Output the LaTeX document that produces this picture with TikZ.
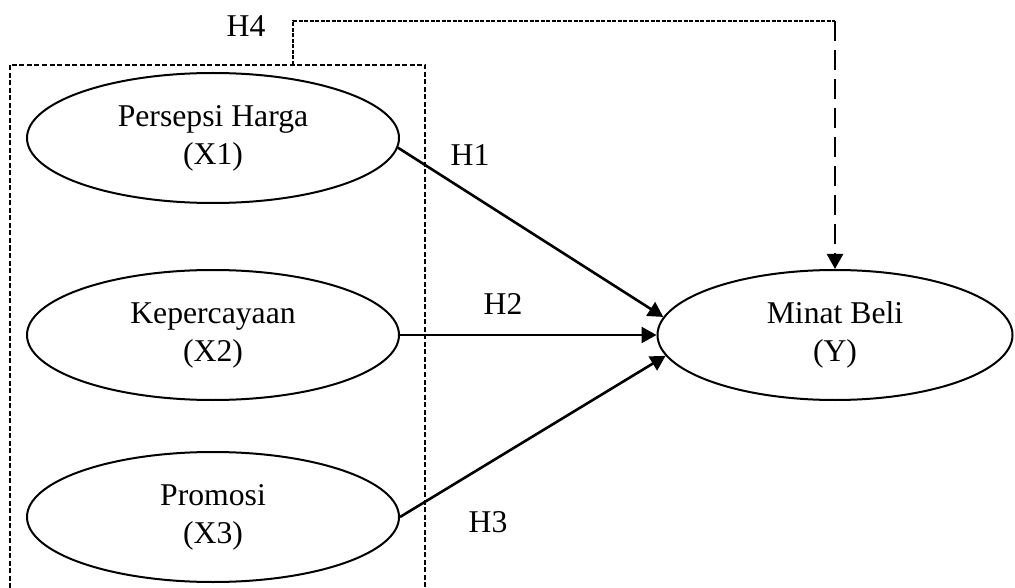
\documentclass[tikz,border=0pt]{standalone}
\usepackage{fontspec}
\setmainfont{Liberation Serif}
\usetikzlibrary{shapes.geometric,arrows.meta}

\begin{document}
\begin{tikzpicture}[x=1pt, y=-1pt,
        font=\fontsize{31.7pt}{38pt}\selectfont,
        var/.style={ellipse, draw, line width=2pt, align=center, inner sep=0pt,
            minimum width=372pt, minimum height=130pt},
        effect/.style={-{Triangle[length=15pt,width=16pt]}, line width=2.6pt},
        hyp/.style={inner sep=0pt}]
    \useasboundingbox (0,0) rectangle (1015,588);

    \node[var] (X1) at (213,138) {Persepsi Harga\\(X1)};
    \node[var] (X2) at (213,335) {Kepercayaan\\(X2)};
    \node[var] (X3) at (213,517) {Promosi\\(X3)};
    \node[var, minimum width=355pt] (Y) at (835,335) {Minat Beli\\(Y)};

    % group box, open at the bottom
    \draw[line width=1.4pt, dash pattern=on 5pt off 2.5pt] (10,588) |- (425,65) -- (425,588);

    \draw[effect] (X1.-3) -- (Y.174);
    \draw[effect] (X2.east) -- (Y.west);
    \draw[effect] (X3.east) -- (Y.187);

    % simultaneous effect
    \coordinate (g) at (293,65);
    \coordinate (c) at (Y.north |- 0,21);
    \draw[line width=1.2pt, dash pattern=on 4pt off 1.5pt] (g) |- (c);
    \draw[effect, dash pattern=on 20pt off 9pt] (c) -- (Y.north);

    \node[hyp] (h1) at (470,155) {H1};
    \node[hyp] (h2) at (503,304) {H2};
    \node[hyp] (h3) at (488,522) {H3};
    \node[hyp] (h4) at (246,26) {H4};
\end{tikzpicture}
\end{document}
